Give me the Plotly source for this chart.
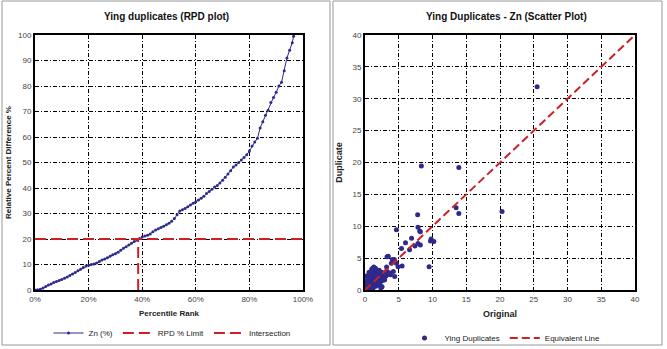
import plotly.graph_objects as go

# ---------------- data ----------------
pct_rank = [0, 1, 2, 3, 4, 5, 6, 7, 8, 9, 10, 11, 12, 13, 14, 15, 16, 17, 18, 19,
            20, 21, 22, 23, 24, 25, 26, 27, 28, 29, 30, 31, 32, 33, 34, 35, 36, 37, 38, 39,
            40, 41, 42, 43, 44, 45, 46, 47, 48, 49, 50, 51, 52, 53, 54, 55, 56, 57, 58, 59,
            60, 61, 62, 63, 64, 65, 66, 67, 68, 69, 70, 71, 72, 73, 74, 75, 76, 77, 78, 79,
            80, 81, 82, 83, 84, 85, 86, 87, 88, 89, 90, 91, 92, 93, 94, 95, 96, 96.5]
rpd_zn = [0, 0.1, 0.3, 0.8, 1.4, 2.0, 2.4, 2.9, 3.3, 3.7, 4.1, 4.6, 5.1, 5.7, 6.3, 6.9, 7.5, 8.1, 8.8, 9.4,
          9.7, 10.0, 10.2, 10.6, 11.2, 11.8, 12.2, 12.6, 13.2, 13.8, 14.2, 14.8, 15.6, 16.4, 17.0, 17.6, 18.3, 19.0, 19.6, 20.2,
          20.8, 21.2, 21.5, 22.0, 22.8, 23.5, 24.0, 24.5, 25.0, 25.6, 26.2, 27.0, 28.0, 29.5, 31.0, 31.5, 32.0, 32.6, 33.3, 34.0,
          34.6, 35.3, 36.0, 36.8, 37.8, 38.6, 39.5, 40.4, 41.0, 42.0, 43.0, 44.2, 45.5, 46.8, 48.2, 49.0, 50.0, 51.0, 52.0, 53.0,
          54.5, 56.5, 58.0, 59.5, 63.5, 66.0, 68.5, 70.5, 73.5, 75.5, 77.5, 80.0, 81.5, 86.0, 91.0, 94.0, 97.0, 99.5]
rpd_limit_x = [0, 100]
rpd_limit_y = [20, 20]
intersect_x = [38.5, 38.5]
intersect_y = [0, 20]

orig = [25.5, 8.35, 13.9, 20.3, 13.5, 13.9, 7.8, 4.65, 7.85, 8.1, 6.9, 9.8, 8.2, 9.7, 10.2,
        6.0, 5.4, 6.6, 7.4, 7.85, 8.2, 9.5, 3.26, 4.05, 4.65, 5.5, 3.9, 3.2, 3.45, 4.35,
        4.9, 4.2, 4.4, 2.9, 2.5,
        0.1, 0.15, 0.2, 0.25, 0.3, 0.3, 0.35, 0.4, 0.4, 0.45, 0.5, 0.5, 0.55, 0.6, 0.6, 0.65,
        0.7, 0.7, 0.75, 0.8, 0.8, 0.85, 0.9, 0.9, 0.95, 1.0, 1.0, 1.0, 1.05, 1.1, 1.1, 1.15,
        1.2, 1.2, 1.25, 1.3, 1.3, 1.35, 1.4, 1.4, 1.45, 1.5, 1.5, 1.55, 1.6, 1.6, 1.65, 1.7,
        1.75, 1.8, 1.8, 1.85, 1.9, 1.95, 2.0, 2.0, 2.1, 2.1, 2.15, 2.2, 2.25, 2.3, 2.35, 2.4,
        2.45, 2.5, 2.5, 2.6, 2.7, 2.8, 2.9, 3.0, 3.1, 3.2, 3.3, 3.6, 3.8, 1.0, 1.3, 0.6,
        0.3, 0.2, 0.05, 0.1, 0.2, 0.5, 0.8, 1.2,
        0.35, 0.55, 0.75, 0.95, 1.15, 1.35, 1.55, 1.75, 1.95, 2.2, 0.45, 0.65, 0.85, 1.05, 1.25]
dup = [31.9, 19.45, 19.2, 12.3, 12.9, 12.0, 11.8, 9.46, 9.83, 9.25, 8.1, 8.0, 9.15, 7.7, 7.6,
       7.4, 6.5, 6.3, 6.9, 7.3, 7.06, 3.66, 5.2, 4.8, 4.18, 3.76, 4.2, 3.6, 5.3, 4.8,
       3.66, 2.9, 2.1, 1.6, 0.5,
       0.1, 0.3, 0.1, 0.5, 0.2, 0.8, 0.4, 0.1, 0.6, 1.0, 0.3, 0.7, 1.2, 0.5, 0.9, 0.2,
       1.4, 0.7, 1.0, 0.4, 1.6, 1.2, 0.8, 2.0, 1.5, 0.6, 1.1, 2.4, 1.8, 0.9, 1.4, 2.1,
       0.4, 1.7, 2.6, 1.2, 2.0, 0.8, 1.5, 2.3, 1.9, 1.0, 2.7, 1.6, 2.1, 0.6, 1.3, 2.4,
       1.8, 1.1, 2.9, 2.2, 1.5, 2.6, 1.9, 0.9, 2.3, 3.1, 1.6, 2.0, 1.2, 2.5, 0.3, 1.8,
       2.2, 2.8, 0.5, 1.5, 2.4, 2.0, 1.6, 2.6, 2.2, 3.0, 2.4, 2.7, 2.4, 3.3, 3.6, 2.8,
       1.5, 2.2, 0.3, 0.05, 0.0, 0.2, 0.15, 0.3,
       1.1, 1.6, 2.2, 2.8, 3.0, 3.2, 3.4, 1.3, 1.0, 0.7, 1.9, 2.3, 2.5, 2.9, 3.4]
equiv_x = [0, 40]
equiv_y = [0, 40]

x_ticks_pct = [0, 20, 40, 60, 80, 100]
x_tick_labels = ["0%", "20%", "40%", "60%", "80%", "100%"]
y_ticks_rpd = list(range(0, 101, 10))
ticks_40 = list(range(0, 41, 5))

# ---------------- styles ----------------
W, H = 667, 349
BLUE = "#2E2A8C"
RED = "#CC2026"
FONT = "Liberation Sans, Arial, sans-serif"
GRID_DASH = "4px,2px,1px,2px"

def px_x(p):
    return p / W

def px_y(p):
    return 1 - p / H

fig = go.Figure()

fig.add_trace(go.Scatter(x=pct_rank, y=rpd_zn, mode="lines+markers", name="Zn (%)",
                         line=dict(color=BLUE, width=1), marker=dict(color=BLUE, size=3),
                         xaxis="x", yaxis="y", legend="legend"))
fig.add_trace(go.Scatter(x=rpd_limit_x, y=rpd_limit_y, mode="lines", name="RPD % Limit",
                         line=dict(color=RED, width=2, dash="11px,5px"),
                         xaxis="x", yaxis="y", legend="legend"))
fig.add_trace(go.Scatter(x=intersect_x, y=intersect_y, mode="lines", name="Intersection",
                         line=dict(color=RED, width=2, dash="11px,5px"),
                         xaxis="x", yaxis="y", legend="legend"))

fig.add_trace(go.Scatter(x=orig, y=dup, mode="markers", name="Ying Duplicates",
                         marker=dict(color=BLUE, size=5),
                         xaxis="x2", yaxis="y2", legend="legend2"))
fig.add_trace(go.Scatter(x=equiv_x, y=equiv_y, mode="lines", name="Equivalent Line",
                         line=dict(color=RED, width=2, dash="8px,4px"),
                         xaxis="x2", yaxis="y2", legend="legend2"))

axis_common = dict(showline=True, linecolor="black", linewidth=2, mirror=True,
                   showgrid=True, gridcolor="black", gridwidth=1, griddash=GRID_DASH,
                   zeroline=False, ticks="", tickfont=dict(family=FONT, size=8, color="#444"),
                   fixedrange=True, automargin=False)

ydom = [px_y(290), px_y(35)]

fig.update_layout(
    width=W, height=H, margin=dict(l=0, r=0, t=0, b=0, autoexpand=False),
    paper_bgcolor="white", plot_bgcolor="white",
    font=dict(family=FONT, size=8, color="#222"),
    xaxis=dict(domain=[px_x(35), px_x(303)], range=[0, 100], tickvals=x_ticks_pct,
               ticktext=x_tick_labels, anchor="y",
               title=dict(text="<b>Percentile Rank</b>", font=dict(size=8, family=FONT, color="#222"), standoff=8),
               **axis_common),
    yaxis=dict(domain=ydom, range=[0, 100], tickvals=y_ticks_rpd, anchor="x",
               title=dict(text="<b>Relative Percent Difference %</b>", font=dict(size=8, family=FONT, color="#222"), standoff=5),
               **axis_common),
    xaxis2=dict(domain=[px_x(365), px_x(635)], range=[0, 40], tickvals=ticks_40, anchor="y2",
                title=dict(text="<b>Original</b>", font=dict(size=9, family=FONT, color="#222"), standoff=8),
                **axis_common),
    yaxis2=dict(domain=ydom, range=[0, 40], tickvals=ticks_40, anchor="x2",
                title=dict(text="<b>Duplicate</b>", font=dict(size=9, family=FONT, color="#222"), standoff=8),
                **axis_common),
    legend=dict(orientation="h", x=px_x(172), xanchor="center", y=px_y(333), yanchor="middle",
                font=dict(family=FONT, size=8, color="#222"), bgcolor="rgba(0,0,0,0)",
                itemwidth=30, tracegroupgap=0),
    legend2=dict(orientation="h", x=px_x(505), xanchor="center", y=px_y(338), yanchor="middle",
                 font=dict(family=FONT, size=8, color="#222"), bgcolor="rgba(0,0,0,0)",
                 itemwidth=30),
    showlegend=True,
    annotations=[
        dict(text="<b>Ying duplicates (RPD plot)</b>", x=px_x(166), y=px_y(16), xref="paper", yref="paper",
             showarrow=False, font=dict(family=FONT, size=10, color="#111"), xanchor="center", yanchor="middle"),
        dict(text="<b>Ying Duplicates - Zn (Scatter Plot)</b>", x=px_x(507), y=px_y(16), xref="paper", yref="paper",
             showarrow=False, font=dict(family=FONT, size=10, color="#111"), xanchor="center", yanchor="middle"),
    ],
    shapes=[
        dict(type="rect", xref="paper", yref="paper", x0=px_x(2), x1=px_x(330), y0=px_y(345), y1=px_y(1),
             line=dict(color="#999", width=1)),
        dict(type="rect", xref="paper", yref="paper", x0=px_x(333), x1=px_x(662), y0=px_y(345), y1=px_y(1),
             line=dict(color="#999", width=1)),
    ],
)

fig.write_html("out.html")
